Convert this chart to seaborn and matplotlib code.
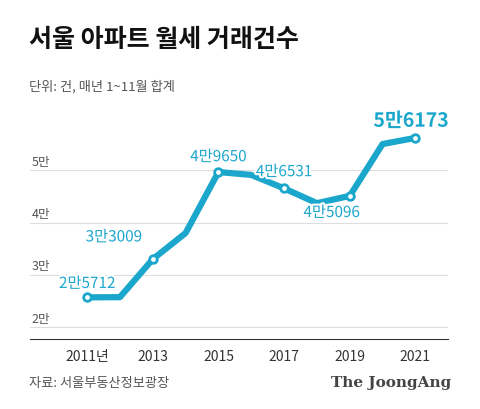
import matplotlib
matplotlib.use("Agg")
import matplotlib.pyplot as plt
import matplotlib.patheffects as pe
import seaborn as sns
import pandas as pd

years = [2011, 2012, 2013, 2014, 2015, 2016, 2017, 2018, 2019, 2020, 2021]
values = [25712, 25750, 33009, 38000, 49650, 49100, 46531, 43700, 45096, 55000, 56173]
labeled = {2011: "2만5712", 2013: "3만3009", 2015: "4만9650", 2017: "4만6531", 2019: "4만5096", 2021: "5만6173"}
xticks = [2011, 2013, 2015, 2017, 2019, 2021]
xticklabels = ["2011년", "2013", "2015", "2017", "2019", "2021"]
yticks = [20000, 30000, 40000, 50000]
yticklabels = ["2만", "3만", "4만", "5만"]

sns.set_style("white")
plt.rcParams['font.family'] = ['Noto Sans CJK KR', 'DejaVu Sans']
C = "#1ba6cc"
df = pd.DataFrame({"year": years, "v": values})

fig = plt.figure(figsize=(4.8, 4.1), dpi=100)
ax = fig.add_axes([0.0625, 0.17, 0.87, 0.57])
sns.lineplot(data=df, x="year", y="v", ax=ax, color=C, lw=4.5, solid_capstyle="round", solid_joinstyle="round")
ld = df[df.year.isin(list(labeled))]
ax.scatter(ld.year, ld.v, s=30, facecolor="white", edgecolor=C, linewidth=2, zorder=5)
offs = {2011: (0, 10), 2013: (-28, 16), 2015: (0, 11), 2017: (0, 12), 2019: (-13, -12), 2021: (-3, 12)}
for y, v in zip(years, values):
    if y in labeled:
        dx, dy = offs[y]
        big = y == 2021
        ax.annotate(labeled[y], (y, v), xytext=(dx, dy), textcoords="offset points",
                    ha="center", va="center", color=C, fontsize=14 if big else 11,
                    fontweight="bold" if big else "normal", zorder=6,
                    path_effects=[pe.withStroke(linewidth=3, foreground="white")])
ax.set_xlim(2009.26, 2021.98)
ax.set_ylim(17700, 62340)
ax.set_yticks(yticks)
ax.set_yticklabels([])
for t, l in zip(yticks, yticklabels):
    ax.text(2009.3, t + 500, l, ha="left", va="bottom", fontsize=9, color="#555555")
ax.grid(axis="y", color="#dddddd", lw=0.8)
ax.set_xticks(xticks)
ax.set_xticklabels(xticklabels, fontsize=10, color="#333333")
ax.tick_params(axis="x", length=4, color="#333333", pad=3)
ax.tick_params(axis="y", length=0)
for s in ["left", "right", "top"]:
    ax.spines[s].set_visible(False)
ax.spines["bottom"].set_color("#333333")
ax.set_xlabel(""); ax.set_ylabel("")

fig.text(0.06, 0.885, "서울 아파트 월세 거래건수", fontsize=18, fontweight="bold", color="#111111")
fig.text(0.06, 0.78, "단위: 건, 매년 1~11월 합계", fontsize=9.5, color="#555555")
fig.text(0.06, 0.055, "자료: 서울부동산정보광장", fontsize=9.5, color="#555555")
fig.text(0.94, 0.055, "The JoongAng", fontsize=11, fontweight="bold", color="#444444", ha="right", family="DejaVu Serif")
fig.savefig("out.png", dpi=100)
